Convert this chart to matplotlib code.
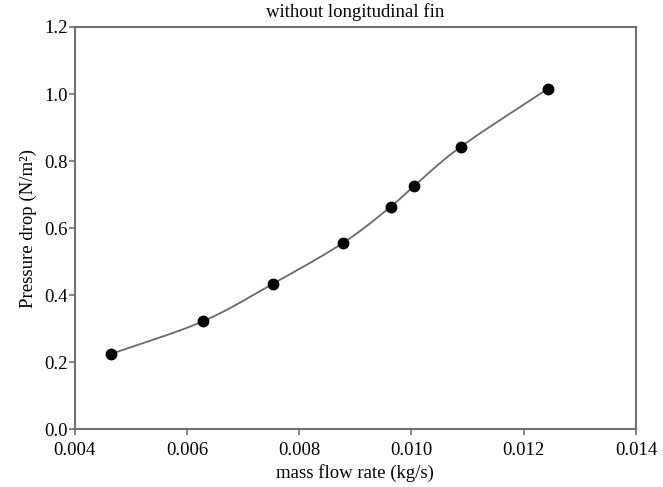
import numpy as np
import matplotlib
matplotlib.use('Agg')
import matplotlib.pyplot as plt

plt.rcParams['font.family'] = ['Liberation Serif', 'DejaVu Serif']

# measured data
mass_flow = [0.00465, 0.00628, 0.00754, 0.00879, 0.00963, 0.01005, 0.01088, 0.01243]
pressure_drop = [0.225, 0.322, 0.435, 0.557, 0.664, 0.726, 0.843, 1.016]

xticks = [0.004, 0.006, 0.008, 0.010, 0.012, 0.014]
yticks = [0.0, 0.2, 0.4, 0.6, 0.8, 1.0, 1.2]


def smooth_curve(x, y, n=30):
    # Catmull-Rom spline through the points, just for drawing the line
    x = np.asarray(x)
    y = np.asarray(y)
    px = np.concatenate([[2*x[0]-x[1]], x, [2*x[-1]-x[-2]]])
    py = np.concatenate([[2*y[0]-y[1]], y, [2*y[-1]-y[-2]]])
    xs, ys = [], []
    t = np.linspace(0, 1, n)
    for i in range(1, len(px)-2):
        for p, out in ((px, xs), (py, ys)):
            p0, p1, p2, p3 = p[i-1], p[i], p[i+1], p[i+2]
            out.extend(0.5*((2*p1) + (-p0+p2)*t + (2*p0-5*p1+4*p2-p3)*t**2
                            + (-p0+3*p1-3*p2+p3)*t**3))
    return xs, ys


fig = plt.figure(figsize=(6.63, 4.87), dpi=100)
ax = fig.add_axes([0.1124, 0.1181, 0.8469, 0.8265])

cx, cy = smooth_curve(mass_flow, pressure_drop)
ax.plot(cx, cy, color='#6a6a6a', lw=1.3, zorder=2)
ax.plot(mass_flow, pressure_drop, 'o', color='black', ms=7.5, zorder=3)

ax.set_xlim(0.004, 0.014)
ax.set_ylim(0.0, 1.2)
ax.set_xticks(xticks)
ax.set_xticklabels(['%.3f' % v for v in xticks])
ax.set_yticks(yticks)
ax.set_yticklabels(['%.1f' % v for v in yticks])

for sp in ax.spines.values():
    sp.set_color('#707070')
    sp.set_linewidth(1.5)
ax.tick_params(direction='out', length=4, width=1.2, color='#707070',
               labelsize=13.5)
ax.tick_params(axis='x', pad=5)
ax.tick_params(axis='y', pad=1)

ax.set_title('without longitudinal fin', fontsize=13.5, pad=7.5)
ax.set_xlabel('mass flow rate (kg/s)', fontsize=13.5, labelpad=4)
ax.set_ylabel('Pressure drop (N/m²)', fontsize=13.5, labelpad=5)

plt.savefig('out.png', dpi=100)
